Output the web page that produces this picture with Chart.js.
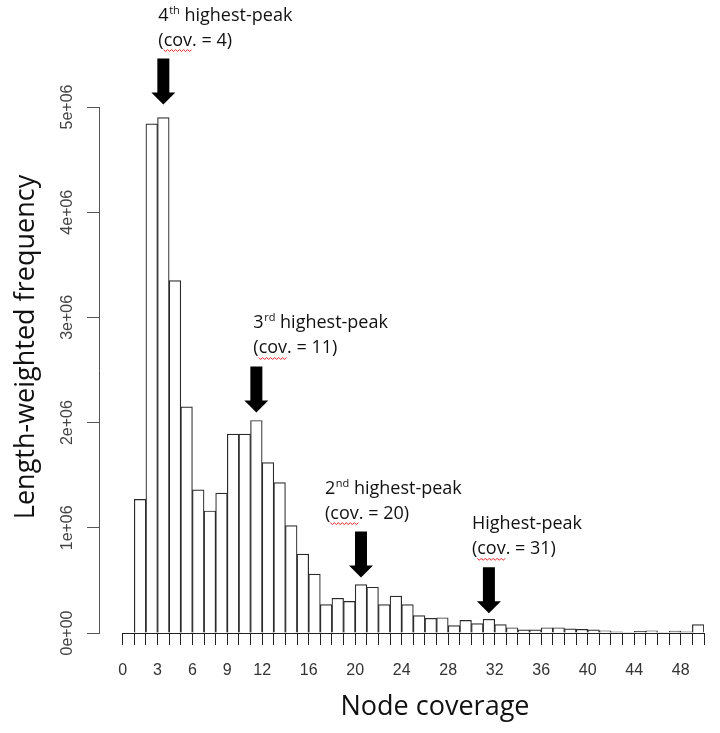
<!DOCTYPE html>
<html>
<head>
<meta charset="utf-8">
<script src="https://cdn.jsdelivr.net/npm/chart.js@4.4.0/dist/chart.umd.min.js"></script>
<style>
  html, body { margin: 0; padding: 0; background: #fff; }
  #wrap { width: 720px; height: 733px; }
</style>
</head>
<body>
<div id="wrap"><canvas id="myChart" width="720" height="733"></canvas></div>
<script>
// left edge of each histogram bin (node coverage)
const bins = [1, 2, 3, 4, 5, 6, 7, 8, 9, 10, 11, 12, 13, 14, 15, 16, 17, 18, 19, 20,
              21, 22, 23, 24, 25, 26, 27, 28, 29, 30, 31, 32, 33, 34, 35, 36, 37, 38, 39, 40,
              41, 42, 43, 44, 45, 46, 47, 48, 49];
// length-weighted frequency, in millions
const freq = [1.27, 4.84, 4.90, 3.35, 2.15, 1.36, 1.16, 1.33, 1.89, 1.89,
              2.02, 1.62, 1.43, 1.02, 0.75, 0.56, 0.27, 0.33, 0.30, 0.46,
              0.435, 0.27, 0.35, 0.27, 0.165, 0.14, 0.145, 0.07, 0.12, 0.09,
              0.13, 0.08, 0.05, 0.03, 0.03, 0.05, 0.05, 0.04, 0.035, 0.03,
              0.02, 0.012, 0.005, 0.015, 0.02, 0.005, 0.018, 0.01, 0.08];
const xTickLabels = [0, 3, 6, 9, 12, 16, 20, 24, 28, 32, 36, 40, 44, 48];
const yTicks = [0, 1e6, 2e6, 3e6, 4e6, 5e6];
const yTickLabels = ['0e+00', '1e+06', '2e+06', '3e+06', '4e+06', '5e+06'];

// peaks to point at: rank text, superscript, coverage, bin the arrow sits on, text offset
const peaks = [
  { rank: '4', sup: 'th', label: 'highest-peak', cov: 4, bin: 3, dx: -5, gap: 13 },
  { rank: '3', sup: 'rd', label: 'highest-peak', cov: 11, bin: 11, dx: -3, gap: 8 },
  { rank: '2', sup: 'nd', label: 'highest-peak', cov: 20, bin: 20, dx: -36, gap: 7 },
  { rank: '', sup: '', label: 'Highest-peak', cov: 31, bin: 31, dx: -17, gap: 6 }
];

const FONT = '"Open Sans", "DejaVu Sans", sans-serif';

const annotate = {
  id: 'annotate',
  afterDraw(chart) {
    const { ctx, scales: { x, y } } = chart;
    ctx.save();

    // R style x axis: line only from first to last tick
    const y0 = Math.round(y.getPixelForValue(0)) + 0.5;
    ctx.strokeStyle = '#222';
    ctx.lineWidth = 1;
    ctx.beginPath();
    ctx.moveTo(x.getPixelForValue(0), y0);
    ctx.lineTo(x.getPixelForValue(50), y0);
    ctx.stroke();

    // axis titles
    ctx.fillStyle = '#111';
    ctx.font = '27px ' + FONT;
    ctx.textAlign = 'center';
    ctx.textBaseline = 'alphabetic';
    ctx.fillText('Node coverage', 435, 715);
    ctx.save();
    ctx.translate(34, 347);
    ctx.rotate(-Math.PI / 2);
    ctx.fillText('Length-weighted frequency', 0, 0);
    ctx.restore();

    // arrows + labels
    ctx.textAlign = 'left';
    peaks.forEach(p => {
      const i = bins.indexOf(p.bin);
      const cx = x.getPixelForValue(p.bin + 0.5);
      const tip = y.getPixelForValue(freq[i] * 1e6) - p.gap;
      const top = tip - 46;
      ctx.fillStyle = '#000';
      ctx.beginPath();
      ctx.moveTo(cx - 6, top);
      ctx.lineTo(cx + 6, top);
      ctx.lineTo(cx + 6, tip - 12);
      ctx.lineTo(cx + 12, tip - 12);
      ctx.lineTo(cx, tip);
      ctx.lineTo(cx - 12, tip - 12);
      ctx.lineTo(cx - 6, tip - 12);
      ctx.closePath();
      ctx.fill();

      const tx = cx + p.dx;
      const base2 = top - 13;
      const base1 = base2 - 25;
      ctx.fillStyle = '#111';
      ctx.font = '18px ' + FONT;
      let cur = tx;
      if (p.rank) {
        ctx.fillText(p.rank, cur, base1);
        cur += ctx.measureText(p.rank).width + 0.5;
        ctx.font = '11px ' + FONT;
        ctx.fillText(p.sup, cur, base1 - 7);
        cur += ctx.measureText(p.sup).width;
        ctx.font = '18px ' + FONT;
        ctx.fillText(' ' + p.label, cur, base1);
      } else {
        ctx.fillText(p.label, cur, base1);
      }
      ctx.fillText('(cov. = ' + p.cov + ')', tx, base2);

      // red spell-check squiggle under "cov"
      const sx0 = tx + ctx.measureText('(').width;
      const sx1 = sx0 + ctx.measureText('cov').width;
      ctx.strokeStyle = '#e02424';
      ctx.lineWidth = 1;
      ctx.beginPath();
      let k = 0;
      for (let sx = sx0; sx <= sx1; sx += 2, k++) {
        const sy = base2 + (k % 2 ? 6 : 4);
        if (k === 0) ctx.moveTo(sx, sy); else ctx.lineTo(sx, sy);
      }
      ctx.stroke();
    });
    ctx.restore();
  }
};

const data = {
  datasets: [{
    label: 'Length-weighted frequency',
    data: bins.map((b, i) => ({ x: b + 0.5, y: freq[i] * 1e6 })),
    backgroundColor: '#fff',
    borderColor: '#2a2a2a',
    borderWidth: 1.2,
    barPercentage: 1,
    categoryPercentage: 1
  }]
};

const config = {
  type: 'bar',
  data,
  plugins: [annotate],
  options: {
    responsive: false,
    animation: false,
    devicePixelRatio: 1,
    layout: { padding: { top: 107, right: 7, bottom: 0, left: 0 } },
    plugins: { legend: { display: false }, tooltip: { enabled: false } },
    scales: {
      x: {
        type: 'linear',
        min: -2.034,
        max: 50,
        offset: false,
        grid: { display: true, offset: false, drawOnChartArea: false, tickLength: 12, color: '#222', tickColor: '#222' },
        border: { display: false },
        afterBuildTicks: s => {
          const t = [];
          for (let v = 0; v <= 50; v++) t.push({ value: v });
          s.ticks = t;
        },
        afterFit: s => { s.height = 100; },
        ticks: {
          autoSkip: false,
          maxRotation: 0,
          padding: 16,
          color: '#333',
          font: { family: '"Liberation Sans", Arial, sans-serif', size: 16 },
          callback: v => xTickLabels.includes(v) ? String(v) : ''
        }
      },
      y: {
        min: 0,
        max: 5e6,
        grid: { display: true, drawOnChartArea: false, tickLength: 12, tickColor: '#555' },
        border: { display: true, color: '#555', width: 1 },
        afterBuildTicks: s => { s.ticks = yTicks.map(v => ({ value: v })); },
        afterFit: s => { s.width = 99; },
        ticks: {
          minRotation: 90,
          maxRotation: 90,
          crossAlign: 'center',
          padding: -3,
          color: '#444',
          font: { family: '"Liberation Sans", Arial, sans-serif', size: 16 },
          callback: v => yTickLabels[yTicks.indexOf(v)]
        }
      }
    }
  }
};

new Chart(document.getElementById('myChart'), config);
</script>
</body>
</html>
